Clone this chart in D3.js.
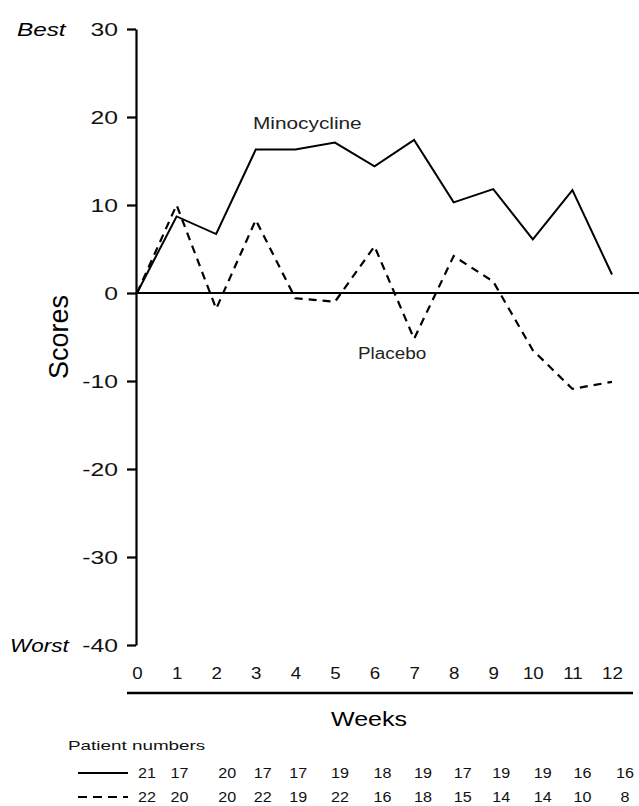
<!DOCTYPE html>
<html>
<head>
<meta charset="utf-8">
<script src="https://cdn.jsdelivr.net/npm/d3@7"></script>
<style>
  body { margin: 0; background: #fff; }
  svg { display: block; font-family: "Liberation Sans", Arial, sans-serif; }
</style>
</head>
<body>
<svg id="chart" width="639" height="806"></svg>
<script>
// weeks and mean scores
const weeks = [0, 1, 2, 3, 4, 5, 6, 7, 8, 9, 10, 11, 12];
const minocycline = [0, 8.7, 6.7, 16.3, 16.3, 17.1, 14.4, 17.4, 10.3, 11.8, 6.1, 11.7, 2.1];
const placebo = [0, 10.0, -1.8, 8.3, -0.6, -1.0, 5.3, -5.2, 4.2, 1.3, -6.5, -10.9, -10.1];
const yTicks = [30, 20, 10, 0, -10, -20, -30, -40];
// patient numbers per week
const nMinocycline = [21, 17, 20, 17, 17, 19, 18, 19, 17, 19, 19, 16, 16];
const nPlacebo = [22, 20, 20, 22, 19, 22, 16, 18, 15, 14, 14, 10, 8];

const svg = d3.select("#chart");

const x = d3.scaleLinear().domain([0, 12]).range([137, 612]);
const y = d3.scaleLinear().domain([-40, 30]).range([645, 29]);

// the source figure's lettering is stretched sideways, so widen text to match
function stretch(sel, k) {
    sel.each(function () {
        const w = this.getComputedTextLength();
        d3.select(this).attr("textLength", w * k).attr("lengthAdjust", "spacingAndGlyphs");
    });
}

// y axis
const yAxis = d3.axisLeft(y).tickValues(yTicks).tickSize(9).tickPadding(9)
    .tickSizeOuter(0).tickFormat(d => String(d));
const gy = svg.append("g").attr("transform", "translate(136,0)").call(yAxis);
gy.select(".domain").attr("stroke", "#000").attr("stroke-width", 2.2);
gy.selectAll(".tick line").attr("stroke", "#000").attr("stroke-width", 2.2);
gy.selectAll(".tick text").attr("font-size", 19).attr("fill", "#111")
    .attr("font-family", "'Liberation Sans', Arial, sans-serif")
    .call(stretch, 1.3);

// zero line
svg.append("line")
    .attr("x1", 136).attr("x2", 639)
    .attr("y1", y(0)).attr("y2", y(0))
    .attr("stroke", "#000").attr("stroke-width", 2.2);

// Best / Worst
svg.append("text").attr("x", 17).attr("y", y(30) + 7)
    .attr("font-size", 18).attr("font-style", "italic").text("Best")
    .call(stretch, 1.35);
svg.append("text").attr("x", 10).attr("y", y(-40) + 7)
    .attr("font-size", 18).attr("font-style", "italic").text("Worst")
    .call(stretch, 1.25);

// y title
svg.append("text")
    .attr("transform", `translate(68,${y(-5)}) rotate(-90)`)
    .attr("text-anchor", "middle")
    .attr("font-size", 27)
    .text("Scores");

// x axis (labels above a rule)
const xAxis = d3.axisBottom(x).tickValues(weeks).tickSize(0).tickPadding(0).tickFormat(d => String(d));
const gx = svg.append("g").attr("transform", "translate(0,667)").call(xAxis);
gx.select(".domain").remove();
gx.selectAll(".tick text").attr("font-size", 17).attr("fill", "#111")
    .attr("font-family", "'Liberation Sans', Arial, sans-serif")
    .call(stretch, 1.1);

svg.append("line")
    .attr("x1", 127).attr("x2", 633).attr("y1", 693).attr("y2", 693)
    .attr("stroke", "#000").attr("stroke-width", 2.5);

svg.append("text").attr("x", 369).attr("y", 726)
    .attr("text-anchor", "middle").attr("font-size", 20).text("Weeks")
    .call(stretch, 1.25);

// series lines
const line = d3.line().x((d, i) => x(weeks[i])).y(d => y(d));

svg.append("path").datum(placebo)
    .attr("d", line).attr("fill", "none")
    .attr("stroke", "#000").attr("stroke-width", 2.2)
    .attr("stroke-dasharray", "8,6");

svg.append("path").datum(minocycline)
    .attr("d", line).attr("fill", "none")
    .attr("stroke", "#000").attr("stroke-width", 2);

// series labels
svg.append("text").attr("x", 253).attr("y", 129)
    .attr("font-size", 16).attr("fill", "#222").text("Minocycline")
    .call(stretch, 1.3);
svg.append("text").attr("x", 358).attr("y", 359)
    .attr("font-size", 16).attr("fill", "#222").text("Placebo")
    .call(stretch, 1.18);

// patient numbers table
svg.append("text").attr("x", 68).attr("y", 750)
    .attr("font-size", 13).attr("fill", "#111").text("Patient numbers")
    .call(stretch, 1.45);

svg.append("line").attr("x1", 78).attr("x2", 128).attr("y1", 773).attr("y2", 773)
    .attr("stroke", "#000").attr("stroke-width", 2);
svg.append("line").attr("x1", 78).attr("x2", 128).attr("y1", 797).attr("y2", 797)
    .attr("stroke", "#000").attr("stroke-width", 2).attr("stroke-dasharray", "9,6");

// columns sit a bit right of each week, first few squeezed by the legend key
const nudge = [10, 3, 11, 7, 3, 5, 8, 9, 9, 8, 10, 10, 13];

svg.append("g").selectAll("text").data(nMinocycline).enter().append("text")
    .attr("x", (d, i) => x(weeks[i]) + nudge[i])
    .attr("y", 778)
    .attr("text-anchor", "middle").attr("font-size", 14).attr("fill", "#111")
    .text(d => d)
    .call(stretch, 1.15);

svg.append("g").selectAll("text").data(nPlacebo).enter().append("text")
    .attr("x", (d, i) => x(weeks[i]) + nudge[i])
    .attr("y", 802)
    .attr("text-anchor", "middle").attr("font-size", 14).attr("fill", "#111")
    .text(d => d)
    .call(stretch, 1.15);
</script>
</body>
</html>
